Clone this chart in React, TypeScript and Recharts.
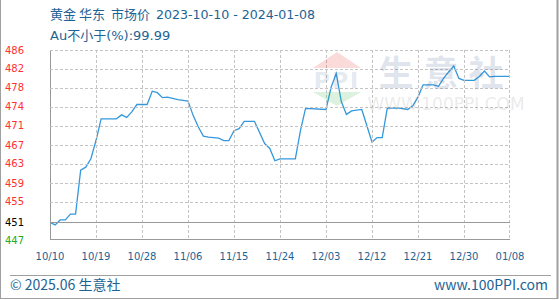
import React from 'react';
import { LineChart, Line, XAxis, YAxis, CartesianGrid } from 'recharts';

const titleParts = ['黄金', '华东', '市场价', '2023-10-10 - 2024-01-08'];
const subtitle = 'Au不小于(%):99.99';
const basePrice = 451;

const dates = [
  '2023-10-10', '2023-10-11', '2023-10-12', '2023-10-13', '2023-10-14', '2023-10-15', '2023-10-16',
  '2023-10-17', '2023-10-18', '2023-10-19', '2023-10-20', '2023-10-23', '2023-10-24', '2023-10-25',
  '2023-10-26', '2023-10-27', '2023-10-29', '2023-10-30', '2023-10-31', '2023-11-01', '2023-11-02',
  '2023-11-04', '2023-11-06', '2023-11-07', '2023-11-08', '2023-11-09', '2023-11-10', '2023-11-12',
  '2023-11-13', '2023-11-14', '2023-11-15', '2023-11-16', '2023-11-17', '2023-11-19', '2023-11-21',
  '2023-11-22', '2023-11-23', '2023-11-24', '2023-11-27', '2023-11-28', '2023-11-29', '2023-12-03',
  '2023-12-04', '2023-12-05', '2023-12-06', '2023-12-07', '2023-12-08', '2023-12-10', '2023-12-12',
  '2023-12-13', '2023-12-14', '2023-12-15', '2023-12-17', '2023-12-19', '2023-12-20', '2023-12-21',
  '2023-12-22', '2023-12-24', '2023-12-25', '2023-12-26', '2023-12-27', '2023-12-28', '2023-12-29',
  '2023-12-30', '2024-01-01', '2024-01-02', '2024-01-03', '2024-01-04', '2024-01-05', '2024-01-08',
];

const prices = [
  451.0, 450.5, 451.5, 451.5, 452.7, 452.7, 461.6,
  462.2, 463.9, 467.6, 472.0, 472.0, 472.8, 472.3,
  473.4, 474.9, 474.9, 477.6, 477.3, 476.3, 476.4,
  475.9, 475.6, 472.7, 470.4, 468.5, 468.3, 468.1,
  467.6, 467.6, 469.6, 470.0, 471.5, 471.5, 467.0,
  466.0, 463.5, 463.9, 463.9, 469.6, 474.1, 473.9,
  478.4, 481.2, 475.5, 472.9, 473.6, 473.9, 467.3,
  468.2, 468.2, 474.2, 474.2, 473.9, 474.7, 476.4,
  478.9, 478.9, 478.6, 480.2, 481.5, 482.7, 480.2,
  479.8, 479.8, 480.6, 481.7, 480.5, 480.6, 480.6,
];

const xTickDates = [
  '2023-10-10', '2023-10-19', '2023-10-28', '2023-11-06', '2023-11-15', '2023-11-24',
  '2023-12-03', '2023-12-12', '2023-12-21', '2023-12-30', '2024-01-08',
];

const percentTicks = [-0.79, 0, 0.92, 1.77, 2.63, 3.48, 4.34, 5.19, 6.05, 6.9, 7.75];
const leftLabels = ['447', '451', '455', '459', '463', '467', '471', '474', '478', '482', '486'];
const rightLabels = ['-0.79%', '0.00%', '0.92%', '1.77%', '2.63%', '3.48%', '4.34%', '5.19%', '6.05%', '6.90%', '7.75%'];

// layout constants
const W = 560;
const H = 300;
const TOP = 50;
const AXIS_W = 50;
const XAXIS_H = 60;
const X_TICK_MARGIN = 13;
const PLOT_W = W - 2 * AXIS_W;
const PLOT_H = H - TOP - XAXIS_H;

const DAY = 86400000;
const t0 = Date.parse(dates[0]);
const toDay = (d: string) => Math.round((Date.parse(d) - t0) / DAY);

const data = dates.map((d, i) => ({ day: toDay(d), price: prices[i] }));
const xTicks = xTickDates.map(toDay);
const xLabels = xTickDates.map((d) => d.slice(5, 7) + '/' + d.slice(8, 10));
const yTicks = percentTicks.map((p) => basePrice * (1 + p / 100));
const yDomain = [yTicks[0], yTicks[yTicks.length - 1]];

const labelColor = (i: number) =>
  percentTicks[i] > 0 ? '#ff3030' : percentTicks[i] < 0 ? '#22aa22' : '#000000';

const tickFont = 'DejaVu Sans, Verdana, sans-serif';
const titleFont = 'DejaVu Sans, Noto Sans CJK SC, sans-serif';
const cjkFont = 'Noto Sans CJK SC, sans-serif';
const blue = '#1d6394';
const gridColor = '#c4c4c4';
const axisColor = '#999999';

const crisp = (v: number) => Math.round(v) + 0.5;

const LeftTick = (props: any) => {
  const { x, y, index } = props;
  const solid = percentTicks[index] <= 0;
  const yy = index === 0 ? crisp(y - 1) : crisp(y);
  return (
    <g>
      <line
        x1={x}
        x2={x + PLOT_W}
        y1={yy}
        y2={yy}
        stroke={solid ? axisColor : gridColor}
        strokeDasharray={solid ? undefined : '3 2'}
        shapeRendering="crispEdges"
      />
      <text x={x - 45} y={y} dy="0.35em" textAnchor="start" fontSize={10} fontFamily={tickFont} fill={labelColor(index)}>
        {leftLabels[index]}
      </text>
    </g>
  );
};

const RightTick = (props: any) => {
  const { x, y, index } = props;
  return (
    <text x={x + 5} y={y} dy="0.35em" textAnchor="start" fontSize={10} fontFamily={tickFont} fill={labelColor(index)}>
      {rightLabels[index]}
    </text>
  );
};

const BottomTick = (props: any) => {
  const { x, y, index } = props;
  const solid = index === 0;
  const xx = index === xLabels.length - 1 ? crisp(x - 1) : crisp(x);
  const yBottom = y - X_TICK_MARGIN;
  return (
    <g>
      <line
        x1={xx}
        x2={xx}
        y1={yBottom - PLOT_H}
        y2={yBottom}
        stroke={solid ? axisColor : gridColor}
        strokeDasharray={solid ? undefined : '3 2'}
        shapeRendering="crispEdges"
      />
      <text x={x} y={y} dy="0.71em" textAnchor="middle" fontSize={10} fontFamily={tickFont} fill={blue}>
        {xLabels[index]}
      </text>
    </g>
  );
};

const titleX = [50, 79, 111, 156];

const Overlay = () => (
  <svg width={W} height={H} style={{ position: 'absolute', left: 0, top: 0, pointerEvents: 'none' }}>
    {titleParts.map((t, i) => (
      <text key={i} x={titleX[i]} y={19} fontSize={i < 3 ? 13 : 12.6} fontFamily={i < 3 ? cjkFont : titleFont} fill={blue}>{t}</text>
    ))}
    <text x={50} y={40} fontSize={13} fontFamily={titleFont} fill={blue}>{subtitle}</text>
    {/* watermark logo */}
    <polygon points="337,52 313,68 361,68" fill="#e83030" fillOpacity={0.18} />
    <text x={337} y={88} fontSize={22} fontWeight="bold" textAnchor="middle" fontFamily="DejaVu Sans, sans-serif" fill="#385a96" fillOpacity={0.15} letterSpacing={2}>PPI</text>
    <polygon points="313,92 361,92 337,106" fill="#30b040" fillOpacity={0.17} />
    <text x={446} y={86} fontSize={35} textAnchor="middle" fontFamily={cjkFont} fontWeight="bold" fill="#3a5590" fillOpacity={0.16} letterSpacing={10}>生意社</text>
    <text x={446} y={110} fontSize={17} textAnchor="middle" fontFamily="DejaVu Sans, sans-serif" fill="#808080" fillOpacity={0.18}>WWW.100PPI.COM</text>
    {/* footer */}
    <line x1={10} y1={275.5} x2={551} y2={275.5} stroke="#a0a0a0" strokeWidth={1} />
    <text x={10} y={290} fontSize={14} fontFamily={cjkFont} fill={blue}>© 2025.06 生意社</text>
    <text x={548} y={290} fontSize={14} textAnchor="end" fontFamily={cjkFont} fill={blue}>www.100PPI.com</text>
    {/* frame */}
    <line x1={0.5} y1={0} x2={0.5} y2={299} stroke="#a0a0a0" />
    <line x1={557.5} y1={0} x2={557.5} y2={299} stroke="#a0a0a0" strokeWidth={2} />
    <line x1={0} y1={298.5} x2={558} y2={298.5} stroke="#a0a0a0" />
  </svg>
);

export default function App() {
  return (
    <div style={{ position: 'absolute', left: 0, top: 0, width: W, height: H, background: '#ffffff' }}>
      <div style={{ position: 'absolute', left: 0, top: 0 }}>
        <LineChart width={W} height={H} data={data} margin={{ top: TOP, right: 0, bottom: 0, left: 0 }}>
          <CartesianGrid yAxisId="left" stroke={gridColor} strokeDasharray="3 2" horizontal={false} vertical={false} />
          <XAxis
            dataKey="day"
            type="number"
            domain={[0, 90]}
            ticks={xTicks}
            height={XAXIS_H}
            tickSize={0}
            tickMargin={X_TICK_MARGIN}
            interval={0}
            axisLine={false}
            tick={<BottomTick />}
          />
          <YAxis
            yAxisId="left"
            orientation="left"
            width={AXIS_W}
            domain={yDomain}
            ticks={yTicks}
            interval={0}
            tickSize={0}
            tickMargin={0}
            axisLine={false}
            tick={<LeftTick />}
          />
          <YAxis
            yAxisId="right"
            orientation="right"
            width={AXIS_W}
            domain={yDomain}
            ticks={yTicks}
            interval={0}
            tickSize={0}
            tickMargin={0}
            axisLine={false}
            tick={<RightTick />}
          />
          <Line
            yAxisId="left"
            type="linear"
            dataKey="price"
            stroke="#3598dc"
            strokeWidth={1.3}
            dot={false}
            isAnimationActive={false}
          />
        </LineChart>
      </div>
      <Overlay />
    </div>
  );
}
